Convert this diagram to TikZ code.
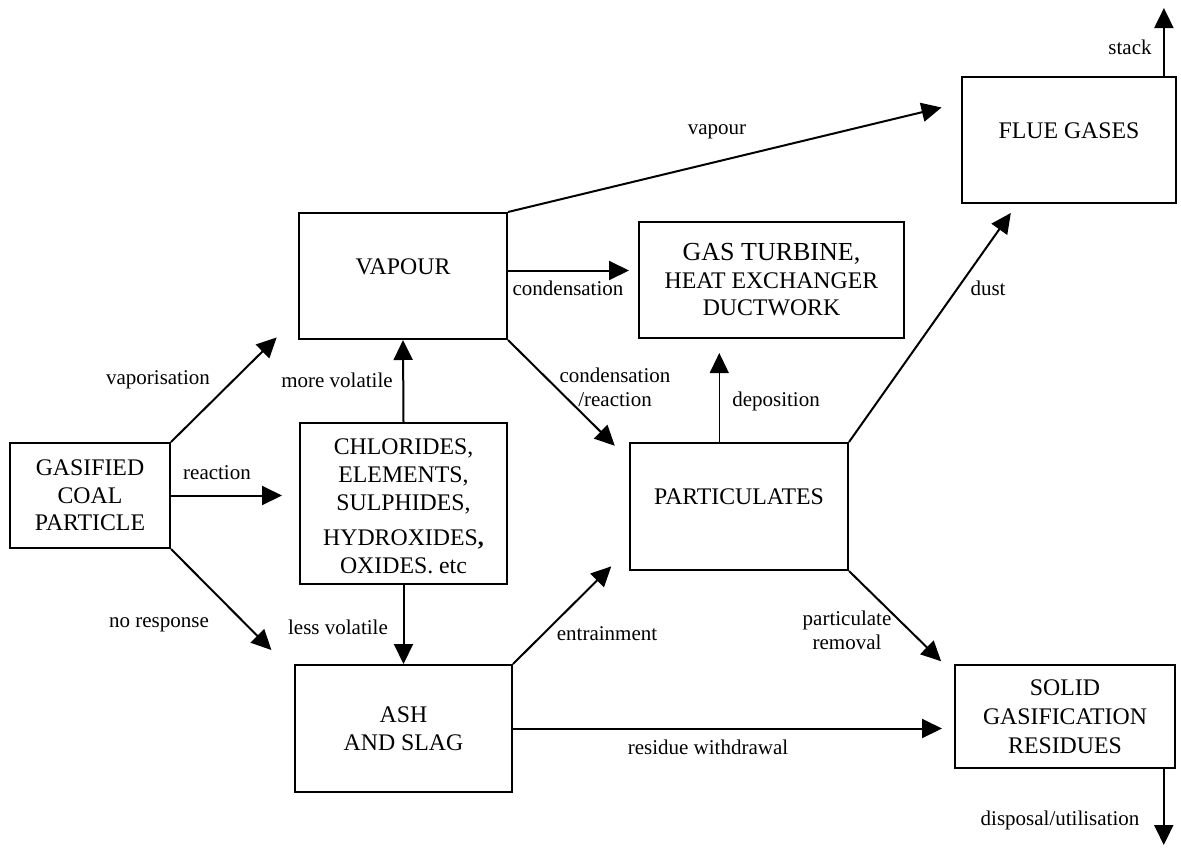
\documentclass[tikz,border=0pt]{standalone}
\usepackage{fontspec}
\setmainfont{Liberation Serif}
\usetikzlibrary{arrows.meta}

\begin{document}
\begin{tikzpicture}[x=1pt, y=-1pt,
  box/.style={draw, line width=2pt, inner sep=0pt, align=center,
    font=\fontsize{23.8}{27.5}\selectfont},
  single/.style={text height=16pt, text depth=20pt},
  lbl/.style={inner sep=0pt, align=center, font=\fontsize{21}{24}\selectfont},
  flow/.style={line width=2pt, -{Triangle[length=20pt,width=19pt]}}]

  \useasboundingbox (0,0) rectangle (1181,847);

  % Boxes
  \node[box, minimum width=160pt, minimum height=105pt] (gas) at (90,495.5) {GASIFIED\\COAL\\PARTICLE};
  \node[box, single, minimum width=208pt, minimum height=126pt] (vap) at (403,276) {VAPOUR};
  \node[box, minimum width=207pt, minimum height=161pt] (chl) at (403.5,503.5) {};
  \node[align=center, inner sep=0pt, font=\fontsize{23.8}{28}\selectfont] (chltxt) at ([yshift=-3pt]chl.center)
    {CHLORIDES,\\ELEMENTS,\\SULPHIDES,\\[7pt]HYDROXIDES{\bfseries ,}\\OXIDES. etc};
  % text cut off at the lower edge
  \fill[white] ([xshift=2pt,yshift=2pt]chl.south west) rectangle ([xshift=-2pt,yshift=11pt]chl.south east);
  \node[box, minimum width=217pt, minimum height=127pt] (ash) at (403.5,728.5) {ASH\\AND SLAG};
  \node[box, minimum width=265pt, minimum height=116pt] (gt) at (771.5,280)
    {{\fontsize{26}{28}\selectfont GAS TURBINE,}\\HEAT EXCHANGER\\DUCTWORK};
  \node[box, single, minimum width=214pt, minimum height=126pt] (flue) at (1069,140) {FLUE GASES};
  \node[box, single, minimum width=218pt, minimum height=127pt] (part) at (739,506.5) {PARTICULATES};
  \node[box, minimum width=220pt, minimum height=103pt, font=\fontsize{23.8}{29}\selectfont] (solid) at (1065,716.5)
    {SOLID\\GASIFICATION\\RESIDUES};

  % Free ends
  \coordinate (stk) at (1163,8);
  \coordinate (dsp) at (1162,845);

  % Arrows
  \draw[flow, shorten >=30pt] (gas.north east) -- (vap.201);
  \draw[flow, shorten >=17pt] (gas.east) -- (gas.east -| chl.west);
  \draw[flow, shorten >=32pt] (gas.south east) -- (ash.153);
  \draw[flow] (chl.north) -- (vap.south);
  \draw[flow] (chl.south) -- (ash.north);
  \draw[flow, shorten >=9pt] (vap.3) -- (vap.3 -| gt.west);
  \draw[flow, shorten >=20pt] (vap.north east) -- (flue.161);
  \draw[flow, shorten >=20pt] (vap.south east) -- (part.157);
  \draw[flow, line width=1.2pt, shorten >=14pt] (part.107) -- (part.107 |- gt.south);
  \draw[flow, shorten >=11pt] (part.north east) -- (flue.231);
  \draw[flow, shorten >=25pt] (ash.north east) -- (part.201);
  \draw[flow, shorten >=18pt] (part.south east) -- (solid.159);
  \draw[flow, shorten >=12pt] (ash.east) -- (ash.east -| solid.west);
  \draw[flow] (flue.34) -- (flue.34 |- stk);
  \draw[flow] (solid.-28) -- (solid.-28 |- dsp);

  % Labels
  \node[lbl] (lvapor) at (158,380) {vaporisation};
  \node[lbl] (lreact) at (217,473) {reaction};
  \node[lbl] (lnoresp) at (159,625) {no response};
  \node[lbl] (lmore) at (337,380) {more volatile};
  \node[lbl] (lless) at (338,627) {less volatile};
  \node[lbl] (lcond) at (568,288) {condensation};
  \node[lbl] (lvapour) at (717,132) {vapour};
  \node[lbl] (lcondr) at (615,387) {condensation\\/reaction};
  \node[lbl] (ldepo) at (776,401) {deposition};
  \node[lbl] (ldust) at (988,288) {dust};
  \node[lbl] (lstack) at (1130,47) {stack};
  \node[lbl] (lentr) at (607,634) {entrainment};
  \node[lbl] (lremov) at (847,630.5) {particulate\\removal};
  \node[lbl] (lresid) at (708,747) {residue withdrawal};
  \node[lbl] (ldisp) at (1060,820) {disposal/utilisation};

\end{tikzpicture}
\end{document}
